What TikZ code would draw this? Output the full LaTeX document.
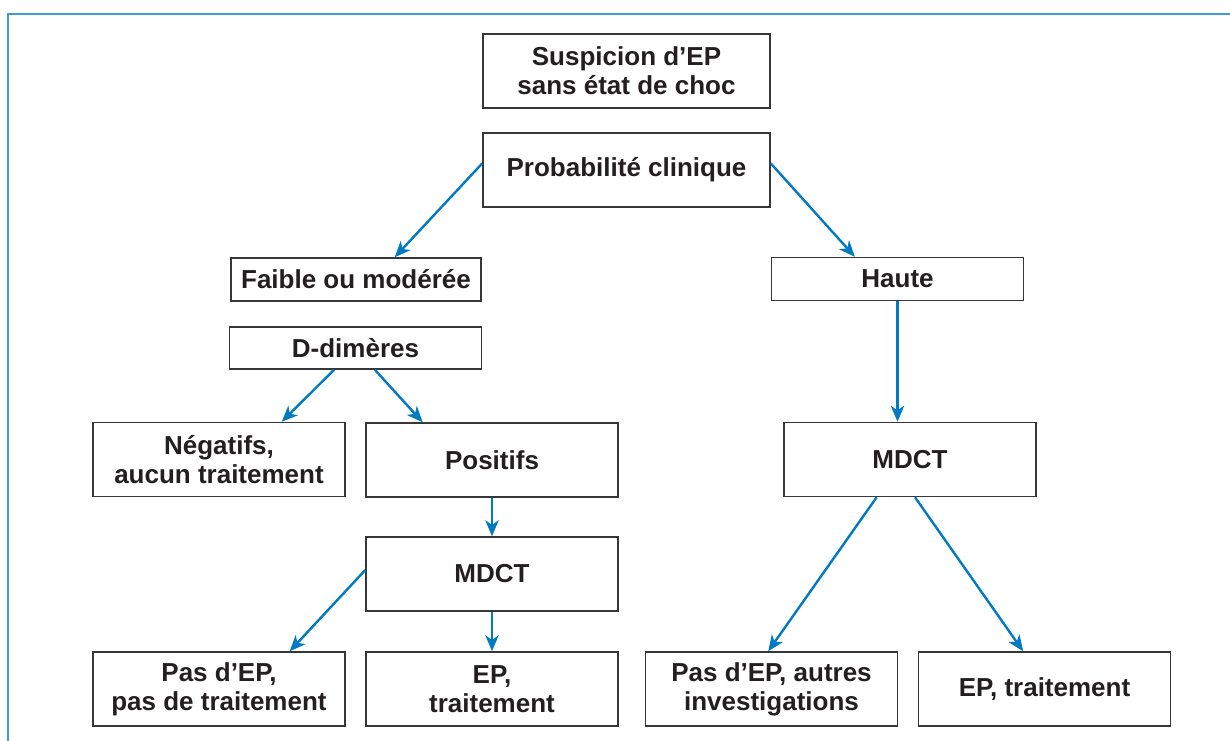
\documentclass[tikz,border=0pt]{standalone}
\usepackage{fontspec}
\setmainfont{Liberation Sans}
\usepackage{xcolor}
\usepackage{tikz}
\usetikzlibrary{arrows.meta}

\definecolor{flowblue}{RGB}{0,122,194}
\definecolor{framebl}{RGB}{62,155,211}
\definecolor{boxgray}{RGB}{55,55,55}
\definecolor{inkblack}{RGB}{35,31,32}

\begin{document}
\begin{tikzpicture}[
    x=0.75pt, y=-0.75pt,
    box/.style={rectangle, draw=boxgray, line width=1.1pt, fill=white, text=inkblack, align=center, minimum width=189pt, minimum height=55.5pt, inner sep=0pt, font=\fontsize{19.5}{22}\selectfont\bfseries},
    widebox/.style={box, minimum width=215.25pt},
    flatbox/.style={box, minimum height=32.25pt},
    arrow/.style={-{Stealth[length=12pt, width=10pt, inset=3.5pt]}, draw=flowblue, line width=1.8pt},
    frameline/.style={draw=framebl, line width=1.6pt}
]
    \useasboundingbox (0,0) rectangle (1230,740);
    % Outer frame (cut at the right and bottom)
    \draw[frameline] (1232,14) -| (8,742);

    % Top
    \node[widebox] (suspicion) at (626.5,71) {Suspicion d'EP\\sans état de choc};
    \node[widebox] (proba) at (626.5,170) {Probabilité clinique};

    % Second row
    \node[flatbox, minimum width=187.5pt] (faible) at (356,279.5) {Faible ou modérée};
    \node[flatbox] (haute) at (897.5,279) {Haute};
    \node[flatbox, minimum height=31.5pt] (ddimeres) at (355.5,348) {D-dimères};

    % Third row
    \node[box] (negatifs) at (219,459.5) {Négatifs,\\aucun traitement};
    \node[box] (positifs) at (492,460) {Positifs};
    \node[box] (mdctright) at (910,459.5) {MDCT};
    \node[box] (mdctleft) at (492,574) {MDCT};

    % Bottom row
    \node[box] (pasepleft) at (219,689) {Pas d'EP,\\pas de traitement};
    \node[box] (epleft) at (492,689) {EP,\\traitement};
    \node[box] (pasepright) at (771.5,689) {Pas d'EP, autres\\investigations};
    \node[box] (epright) at (1044.5,689) {EP, traitement};

    % Arrows
    \draw[arrow] ([yshift=5pt]proba.west) -- ([xshift=29pt]faible.north);
    \draw[arrow] ([yshift=5pt]proba.east) -- ([xshift=-32pt]haute.north);
    \draw[arrow] (haute.south) -- (haute.south |- mdctright.north);
    \draw[arrow] ([xshift=-16pt]ddimeres.south) -- ([xshift=47pt]negatifs.north);
    \draw[arrow] ([xshift=14.5pt]ddimeres.south) -- ([xshift=-52pt]positifs.north);
    \draw[arrow] (positifs) -- (mdctleft);
    \draw[arrow] ([yshift=3pt]mdctleft.west) -- ([xshift=53pt]pasepleft.north);
    \draw[arrow] (mdctleft) -- (epleft);
    \draw[arrow] ([xshift=-25pt]mdctright.south) -- ([xshift=-2.5pt]pasepright.north);
    \draw[arrow] ([xshift=3.75pt]mdctright.south) -- ([xshift=-16pt]epright.north);

\end{tikzpicture}
\end{document}
